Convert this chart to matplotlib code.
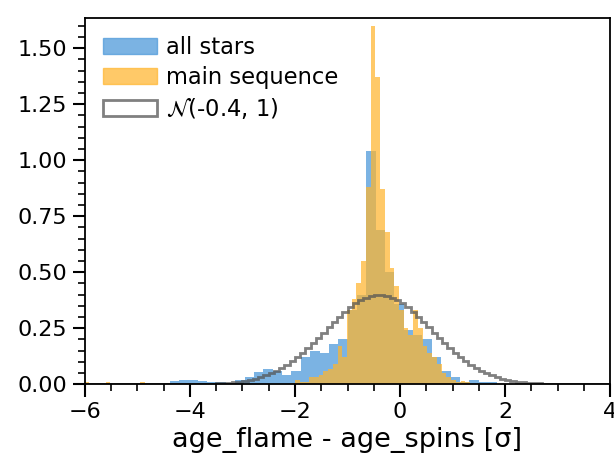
import numpy as np
import matplotlib
matplotlib.use("Agg")
import matplotlib.pyplot as plt
from matplotlib.ticker import MultipleLocator
from matplotlib.patches import Patch

# blue: all stars (bin width ~0.178)
blue_start, blue_w = -4.38, 0.178
blue_h = [0.015, 0.02, 0.02, 0.015, 0.01, 0.01, 0.005, 0.02, 0.03, 0.055, 0.07, 0.06,
          0.04, 0.06, 0.12, 0.15, 0.14, 0.18, 0.20, 0.33, 0.40, 1.04, 0.69, 0.50, 0.36,
          0.24, 0.22, 0.20, 0.12, 0.06, 0.03, 0.01, 0.02, 0.01, 0.01]
# orange: main sequence (bin width ~0.09)
orange_start, orange_w = -2.09, 0.09
orange_h = [0.005, 0.02, 0.01, 0.01, 0.03, 0.03, 0.04, 0.06, 0.07, 0.09, 0.17, 0.12, 0.33,
            0.38, 0.45, 0.55, 0.88, 1.60, 1.37, 0.87, 0.68, 0.52, 0.44, 0.33, 0.25, 0.22,
            0.33, 0.25, 0.17, 0.14, 0.12, 0.09, 0.05, 0.03, 0.02, 0.01, 0.015, 0.01]
orange_out_x = [-6.0, -5.6, -4.95, -3.2]
orange_out_h = [0.012, 0.008, 0.01, 0.006]
mu, sigma = -0.4, 1.0

fig = plt.figure(figsize=(6.14, 4.72), dpi=100)
ax = fig.add_axes([0.138, 0.186, 0.856, 0.776])

bx = blue_start + blue_w * np.arange(len(blue_h))
ax.bar(bx, blue_h, width=blue_w, align='edge', color='#4f9ada', alpha=0.75, linewidth=0)
ox = orange_start + orange_w * np.arange(len(orange_h))
ax.bar(ox, orange_h, width=orange_w, align='edge', color='#ffb52e', alpha=0.72, linewidth=0)
ax.bar(orange_out_x, orange_out_h, width=orange_w, align='edge', color='#ffb52e', alpha=0.72, linewidth=0)

edges = np.arange(-6, 4.0001, 0.1)
centers = 0.5 * (edges[:-1] + edges[1:])
pdf = np.exp(-0.5 * ((centers - mu) / sigma) ** 2) / (sigma * np.sqrt(2 * np.pi))
ax.stairs(pdf, edges, color='#555555', alpha=0.75, linewidth=2)

ax.set_xlim(-6, 4)
ax.set_ylim(0, 1.635)
ax.xaxis.set_major_locator(MultipleLocator(2))
ax.xaxis.set_minor_locator(MultipleLocator(0.5))
ax.yaxis.set_major_locator(MultipleLocator(0.25))
ax.yaxis.set_minor_locator(MultipleLocator(0.05))
ax.tick_params(which='major', length=9, width=1.5, labelsize=16)
ax.tick_params(which='minor', length=5, width=1.2)
for s in ax.spines.values():
    s.set_linewidth(1.3)
ax.set_xlabel('age_flame - age_spins [σ]', fontsize=19.5)

handles = [Patch(color='#4f9ada', alpha=0.75), Patch(color='#ffb52e', alpha=0.72),
           Patch(facecolor='none', edgecolor='#555555', alpha=0.75, linewidth=2)]
ax.legend(handles, ['all stars', 'main sequence', r'$\mathcal{N}$(-0.4, 1)'],
          loc='upper left', frameon=False, fontsize=16.3, handlelength=2.4,
          handletextpad=0.4, borderaxespad=0.4, labelspacing=0.3)
fig.savefig('out.png', dpi=100)
